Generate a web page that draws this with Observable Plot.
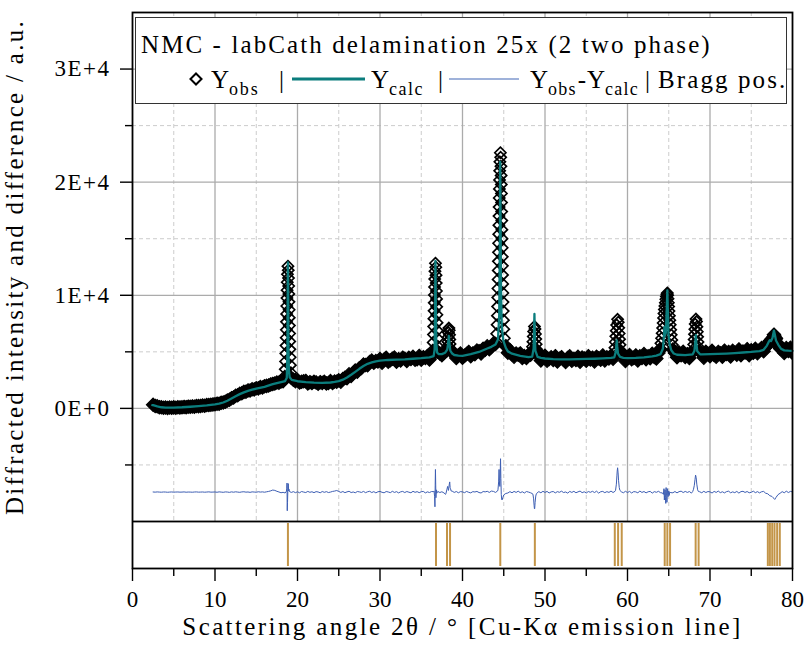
<!DOCTYPE html>
<html><head><meta charset="utf-8">
<script src="https://cdn.jsdelivr.net/npm/d3@7"></script>
<script src="https://cdn.jsdelivr.net/npm/@observablehq/plot@0.6"></script>
<style>
body{margin:0;background:#fff;}
#wrap{position:relative;width:805px;height:652px;}
#wrap svg{display:block;}
#legend{position:absolute;left:0;top:0;pointer-events:none;}
</style></head><body>
<div id="wrap"></div>
<script>
// ---------- texts ----------
const legendTitle = "NMC - labCath delamination 25x (2 two phase)";
const yTitle = "Diffracted intensity and difference / a.u.";
const xTitle = "Scattering angle 2θ / ° [Cu-Kα emission line]";
const legendY = "Y", legendObs = "obs", legendCalc = "calc", legendBragg = "Bragg pos.";

// ---------- ticks ----------
const xMajorTicks = [0, 10, 20, 30, 40, 50, 60, 70, 80];
const xMinorTicks = [5, 15, 25, 35, 45, 55, 65, 75];
const yMajorTicks = [0, 10000, 20000, 30000];
const yTickLabels = ["0E+0", "1E+4", "2E+4", "3E+4"];
const yMinorTicks = [-5000, 5000, 15000, 25000];
const diffOffset = -7400;

// ---------- observed intensity (continuous background band): rows [degree, value@+0, +0.25, +0.5, +0.75] ----------
const obsRows = [
[2,null,null,320,220],[3,180,110,100,60],[4,80,40,75,55],[5,90,60,100,85],[6,95,130,105,150],
[7,140,175,155,205],[8,200,215,250,235],[9,295,290,325,350],[10,360,420,410,500],[11,520,590,700,770],
[12,900,970,1110,1160],[13,1290,1340,1460,1480],[14,1590,1580,1690,1680],[15,1780,1770,1880,1850],
[16,1960,1990,2030,2120],[17,2160,2200,2290,2270],[18,2380,2400,2650,null],[19,null,2700,2540,2410],
[20,2510,2290,2345,2395],[21,2430,2210,2315,2235],[22,2355,2295,2170,2320],[23,2250,2355,2205,2240],
[24,2410,2245,2380,2360],[25,2485,2360,2595,2700],[26,2670,3010,2860,3125],[27,3340,3240,3550,3580],
[28,3880,3830,3815,4095],[29,4230,4030,4185,4145],[30,4365,4045,4320,4475],[31,4130,4260,4385,4490],
[32,4120,4348,4235,4482],[33,4390,4182,4475,4368],[34,4560,4292,4345,4638],[35,4310,4528,4445,4622],
[36,4320,4640,5000,null],[37,5000,4850,4700,4900],[38,5100,null,null,4950],[39,4830,4450,4690,4850],
[40,4480,4660,4815,4990],[41,4600,4860,4790,5110],[42,5060,4845,5270,5185],[43,5490,5225,5420,5730],
[44,5700,null,null,null],[45,null,5500,4930,5150],[46,4790,4570,4850,4740],[47,4860,4445,4620,4465],
[48,4720,4750,5100,null],[49,5000,4650,4230,4520],[50,4650,4220,4365,4520],[51,4280,4615,4140,4385],
[52,4530,4300,4110,4460],[53,4600,4202,4375,4268],[54,4560,4125,4490,4415],[55,4210,4615,4330,4485],
[56,4150,4568,4425,4292],[57,4680,4240,4520,4420],[58,4660,4380,null,null],[59,null,4950,4650,4185],
[60,4510,4715,4350,4465],[61,4680,4230,4610,4450],[62,4800,4340,4600,4430],[63,4830,4550,4410,4900],
[64,5200,null,null,null],[65,null,null,5200,4900],[66,4520,4942,4695,4998],[67,4540,4790,4460,4880],
[68,null,null,null,5000],[69,4880,4485,5010,4825],[70,4620,5098,4725,4572],[71,4990,4878,4565,5102],
[72,4800,4990,4580,5090],[73,4920,4742,5215,4698],[74,5030,4942,5235,4698],[75,5140,4920,5270,4880],
[76,5130,5340,5050,5400],[77,5700,5950,6150,6500],[78,6200,5650,5300,5350],[79,4890,5330,5070,5360],
[80,4900,null,null,null]
];
// observed points on the reflections [2θ, intensity]
const obsPeaks = [
[18.460,2850],[18.517,3450],[18.557,4150],[18.586,4850],[18.609,5550],[18.630,6250],[18.649,6950],[18.667,7650],[18.684,8350],[18.701,9050],[18.719,9750],[18.737,10450],[18.758,11150],[18.782,11850],[18.840,12570],
[18.880,12220],[18.910,11520],[18.932,10820],[18.952,10120],[18.970,9420],[18.987,8720],[19.004,8020],[19.021,7320],[19.040,6620],[19.059,5920],[19.081,5220],[19.107,4520],[19.140,3820],[19.187,3150],
[36.389,5150],[36.444,5830],[36.480,6530],[36.507,7230],[36.531,7930],[36.552,8630],[36.572,9330],[36.592,10030],[36.612,10730],[36.634,11430],[36.661,12130],[36.720,12830],
[36.761,12480],[36.794,11780],[36.817,11080],[36.838,10380],[36.858,9680],[36.878,8980],[36.898,8280],[36.921,7580],[36.946,6880],[36.976,6180],[37.019,5480],
[38.140,5100],[38.192,5500],[38.227,5900],[38.256,6300],[38.287,6700],[38.350,7100],[38.393,6900],[38.429,6500],[38.458,6100],[38.490,5700],[38.529,5300],
[44.145,6600],[44.194,7400],[44.228,8200],[44.255,9000],[44.277,9800],[44.297,10600],[44.316,11400],[44.333,12200],[44.349,13000],[44.364,13800],[44.379,14600],[44.394,15400],[44.408,16200],[44.423,17000],[44.438,17800],[44.453,18600],[44.469,19400],[44.487,20200],[44.507,21000],[44.532,21800],[44.590,22600],
[44.631,22200],[44.662,21400],[44.684,20600],[44.702,19800],[44.719,19000],[44.735,18200],[44.750,17400],[44.765,16600],[44.779,15800],[44.794,15000],[44.808,14200],[44.823,13400],[44.839,12600],[44.856,11800],[44.873,11000],[44.892,10200],[44.914,9400],[44.938,8600],[44.968,7800],[45.008,7000],[45.073,6200],
[48.425,5000],[48.487,5450],[48.534,5900],[48.578,6350],[48.624,6800],[48.720,7250],[48.786,7025],[48.840,6575],[48.884,6125],[48.929,5675],[48.981,5225],[49.057,4800],
[58.386,4880],[58.473,5370],[58.533,5870],[58.584,6370],[58.633,6870],[58.687,7370],[58.800,7870],[58.878,7620],[58.941,7120],[58.992,6620],[59.041,6120],[59.095,5620],[59.165,5120],
[63.95,5300],[64.05,5750],[64.13,6200],[64.20,6650],[64.26,7100],[64.32,7550],[64.37,8000],[64.42,8400],[64.47,8750],[64.53,9050],[64.59,9350],[64.65,9650],[64.71,9900],[64.77,10100],[64.83,10200],
[64.87,10000],[64.91,9700],[64.95,9350],[64.99,9000],[65.03,8600],[65.08,8200],[65.13,7800],[65.18,7400],[65.24,6950],[65.30,6500],[65.37,6050],[65.45,5600],[65.55,5200],[65.70,4950],
[67.960,5200],[68.028,5650],[68.077,6100],[68.119,6550],[68.160,7000],[68.205,7450],[68.300,7900],[68.366,7675],[68.419,7225],[68.461,6775],[68.502,6325],[68.546,5875],[68.602,5425],
[76.80,5400],[77.00,5700],[77.15,5900],[77.30,6000],[77.45,6100],[77.58,6300],[77.70,6500],[77.80,6550],[77.90,6400],[78.02,6100],[78.15,5800],[78.30,5500],[78.45,5300]
];

// ---------- calculated profile [2θ, intensity] ----------
const calcPoints = [
[2.4,290],[2.5,280],[3,170],[3.5,100],[4,70],[5,75],[6,100],[7,145],[8,200],[9,270],[10,360],[10.5,420],[11,520],[11.5,680],[12,870],[12.5,1070],[13,1260],[13.5,1420],[14,1550],[14.5,1650],[15,1740],[16,1910],[17,2140],[17.5,2240],[18,2330],[18.5,2420],[18.7,2700],[18.78,5000],[18.82,10500],[18.845,12900],[18.87,10200],[18.9,5500],[18.96,3300],[19.05,2750],[19.3,2520],
[20,2400],[21,2320],[22,2270],[23,2250],[24,2290],[24.5,2340],[25,2410],[25.5,2540],[26,2730],[26.5,2970],[27,3230],[27.5,3500],[28,3740],[28.5,3940],[29,4060],[29.5,4160],[30,4220],[31,4280],[32,4310],[33,4340],[34,4390],[35,4440],[36,4510],[36.5,4620],[36.62,5200],[36.68,8500],[36.72,13030],[36.76,9500],[36.82,5800],[36.92,4950],[37.1,4800],[37.5,4800],[37.9,4920],[38.15,5200],[38.27,5800],[38.34,6400],[38.41,5800],[38.52,5100],[38.75,4850],[39,4720],[39.5,4660],[40,4640],[41,4790],[42,4990],[43,5290],[43.5,5440],[44,5650],[44.3,6100],[44.45,8200],[44.53,15000],[44.57,21800],[44.61,17000],[44.67,10500],[44.76,7200],[44.95,6000],[45.25,5350],[45.5,5040],[46,4840],[47,4640],[48,4540],[48.45,4580],[48.62,5300],[48.68,7000],[48.72,8350],[48.76,6800],[48.83,5100],[49.1,4560],[49.5,4470],
[50,4410],[51,4360],[52,4340],[53,4340],[54,4350],[55,4370],[56,4390],[57,4420],[58,4460],[58.4,4520],[58.58,5000],[58.66,5700],[58.7,6020],[58.75,5500],[58.85,4850],[59.1,4550],[59.5,4470],[60,4450],[61,4470],[62,4510],[63,4590],[63.5,4670],[64,4800],[64.3,5300],[64.42,6500],[64.47,7200],[64.53,6400],[64.65,6700],[64.76,8800],[64.83,10440],[64.89,8600],[64.97,6500],[65.1,5700],[65.3,5150],[65.6,4850],[66,4740],[67,4710],[67.9,4780],[68.12,5100],[68.22,5900],[68.28,6480],[68.34,5800],[68.46,5050],[68.8,4780],[69,4770],
[70,4790],[71,4820],[72,4850],[73,4890],[74,4940],[75,4990],[76,5070],[76.5,5180],[76.9,5550],[77.1,5850],[77.25,6030],[77.4,5950],[77.58,6250],[77.75,6880],[77.85,6550],[78.0,6000],[78.3,5600],[78.6,5280],[79,5130],[79.5,5100],[80,5080]
];

// ---------- difference Yobs-Ycalc: rows [degree, r@+0, +0.25, +0.5, +0.75] ----------
const diffRows = [
[2,null,null,10,-5],[3,15,0,-10,10],[4,5,-15,0,12],[5,-8,5,10,-5],[6,0,15,-10,5],[7,0,-12,8,15],
[8,-5,0,10,-10],[9,5,20,-5,0],[10,10,-15,20,0],[11,-20,15,5,-25],[12,20,-10,25,0],[13,-20,15,30,-5],
[14,10,-25,20,5],[15,-15,30,0,20],[16,-10,25,60,110],[17,180,150,70,10],[18,-60,-20,-80,-1400],
[19,60,-30,40,-50],[20,30,-60,50,0],[21,-40,60,-20,30],[22,-50,40,10,-60],[23,50,-20,40,-40],
[24,0,60,90,140],[25,60,-30,50,-50],[26,20,70,-40,10],[27,-60,50,20,-30],[28,60,-50,30,70],
[29,-40,40,-70,30],[30,60,-20,-60,50],[31,10,-50,70,-30],[32,40,-70,20,60],[33,-40,50,-10,-60],
[34,70,-20,40,-50],[35,30,60,-70,20],[36,-40,50,40,700],[37,60,-40,30,-70],[38,-100,300,400,80],
[39,-30,50,-60,40],[40,20,-50,60,-20],[41,-70,40,10,60],[42,-40,-80,50,20],[43,70,-30,90,60],
[44,-30,100,600,-650],[45,-250,-120,-80,40],[46,-60,60,-30,80],[47,-50,30,-80,50],[48,0,-60,-150,-1450],
[49,-100,40,-60,70],[50,-30,60,-80,20],[51,50,-70,40,-20],[52,80,-40,10,-90],[53,60,-30,70,-60],
[54,20,90,-50,30],[55,-80,50,-20,70],[56,-40,80,-90,30],[57,60,-50,40,-30],[58,90,-40,80,1850],
[59,400,30,-60,70],[60,-40,60,-80,40],[61,20,-60,90,-30],[62,50,-70,30,60],[63,-90,40,-20,70],
[64,-50,-80,-300,-400],[65,100,-50,-60,50],[66,-70,40,80,-40],[67,60,-30,50,-90],[68,250,1500,200,30],
[69,-60,70,-40,50],[70,20,-80,60,-30],[71,90,-50,30,-70],[72,40,80,-60,20],[73,-50,60,-90,40],
[74,70,-30,50,-60],[75,-20,80,-50,40],[76,-70,30,60,-100],[77,-150,-320,-380,-560],[78,-470,-220,-100,40],
[79,-60,80,-40,60],[80,20,null,null,null]
];
const diffSpikes = [
[18.66,80],[18.70,300],[18.73,800],[18.76,-1650],[18.79,-900],[18.83,200],[18.88,750],[18.93,100],[18.97,250],
[36.55,100],[36.62,-400],[36.66,-1300],[36.69,600],[36.72,2000],[36.78,-500],[36.82,200],[36.88,-100],
[37.95,-200],[38.1,200],[38.2,500],[38.3,150],[38.4,700],[38.45,900],[38.55,300],[38.62,100],
[44.3,200],[44.38,900],[44.43,2000],[44.47,1000],[44.53,500],[44.57,1600],[44.61,2950],[44.65,1200],[44.70,-200],[44.8,-700],[44.88,-500],
[48.55,-250],[48.62,-600],[48.68,-1200],[48.72,-1480],[48.8,-900],[48.88,-350],[48.95,-150],
[58.55,150],[58.65,700],[58.72,1500],[58.8,2150],[58.86,1700],[58.92,1000],[59.08,150],
[64.35,-200],[64.42,300],[64.47,-700],[64.55,200],[64.6,-500],[64.64,-1000],[64.68,400],[64.72,-300],[64.78,-900],[64.85,300],[64.92,-400],[65.05,-300],[65.12,0],
[67.9,50],[68.1,600],[68.18,1100],[68.32,1300],[68.4,700],[68.6,50],
[77.65,-500],[77.85,-650]
];

// ---------- Bragg positions ----------
const braggPositions = [18.84, 36.79, 38.12, 38.49, 44.58, 48.77, 58.46, 58.86, 59.30, 64.51, 64.83, 65.16, 68.26, 68.62, 77.01, 77.26, 77.54, 77.82, 78.14, 78.46];

// ---------- build tables ----------
const STEP = 0.25;
const obsBand = [];
for (const [deg, ...vals] of obsRows) vals.forEach((v, k) => { if (v != null) obsBand.push({x: deg + k * STEP, y: v}); });
const obsPeak = obsPeaks.map(([x, y]) => ({x, y}));
const calc = calcPoints.map(([x, y]) => ({x, y}));
const diff = [];
for (const [deg, ...vals] of diffRows) vals.forEach((v, k) => { if (v != null) diff.push({x: deg + k * STEP, r: v}); });
for (const [x, r] of diffSpikes) diff.push({x, r});
diff.sort((a, b) => a.x - b.x);

const FONT = '"Liberation Serif", "Times New Roman", serif';
const W = 805, ML = 132, MR = 13;

const mainPlot = Plot.plot({
  width: W, height: 521, marginLeft: ML, marginRight: MR, marginTop: 12, marginBottom: 0,
  style: {fontFamily: FONT, background: "white", color: "black"},
  x: {domain: [0, 80], axis: null},
  y: {domain: [-10000, 35000], label: null},
  marks: [
    Plot.ruleX(xMinorTicks, {stroke: "#cccccc", strokeDasharray: "4,3"}),
    Plot.ruleY(yMinorTicks, {stroke: "#cccccc", strokeDasharray: "4,3"}),
    Plot.ruleX(xMajorTicks.slice(1, -1), {stroke: "#ababab", strokeWidth: 1.3}),
    Plot.ruleY(yMajorTicks, {stroke: "#ababab", strokeWidth: 1.3}),
    Plot.dot(obsBand, {x: "x", y: "y", symbol: "diamond2", r: 6, stroke: "#000", strokeWidth: 1.2, fill: "#000", clip: true}),
    Plot.dot(obsPeak, {x: "x", y: "y", symbol: "diamond2", r: 5, stroke: "#000", strokeWidth: 1.7, fill: "none", clip: true}),
    Plot.line(calc, {x: "x", y: "y", stroke: "#0b7d7d", strokeWidth: 2.3}),
    Plot.line(diff, {x: "x", y: d => d.r + diffOffset, stroke: "#3d5eb3", strokeWidth: 1}),
    Plot.axisY({ticks: yMajorTicks, tickFormat: d => yTickLabels[yMajorTicks.indexOf(d)], tickSize: 12, tickPadding: 10, fontSize: 23, strokeWidth: 1.4, label: null}),
    Plot.axisY({ticks: yMinorTicks, tickSize: 7, fill: "none", strokeWidth: 1.4, label: null}),
    Plot.text([yTitle], {text: d => d, frameAnchor: "left", textAnchor: "middle", lineAnchor: "middle", rotate: -90, dx: -118, fontSize: 25}),
    Plot.frame({stroke: "#000", strokeWidth: 1.8})
  ]
});

const braggPlot = Plot.plot({
  width: W, height: 131, marginLeft: ML, marginRight: MR, marginTop: 0, marginBottom: 84,
  style: {fontFamily: FONT, background: "white", color: "black"},
  x: {domain: [0, 80], label: null},
  marks: [
    Plot.ruleX(braggPositions, {stroke: "#c39548", strokeWidth: 2, insetTop: 2, insetBottom: 2}),
    Plot.axisX({ticks: xMajorTicks, tickSize: 13, tickPadding: 9, fontSize: 23, strokeWidth: 1.4, label: null}),
    Plot.axisX({ticks: xMinorTicks, tickSize: 8, fill: "none", strokeWidth: 1.4, label: null}),
    Plot.text([xTitle], {text: d => d, frameAnchor: "bottom", textAnchor: "middle", dy: 66, fontSize: 25}),
    Plot.frame({stroke: "#000", strokeWidth: 1.8})
  ]
});

d3.select(mainPlot).selectAll('g[aria-label="text"] text').style("letter-spacing", "2.3px");
d3.select(mainPlot).selectAll('g[aria-label="y-axis tick label"] text').style("letter-spacing", "1.5px");
d3.select(braggPlot).selectAll('g[aria-label="text"] text').style("letter-spacing", "2.4px");

const wrap = document.getElementById("wrap");
wrap.appendChild(mainPlot);
wrap.appendChild(braggPlot);

// ---------- legend box (inside plot area) ----------
const leg = d3.create("svg").attr("id", "legend").attr("width", W).attr("height", 652)
  .style("font-family", FONT);
wrap.appendChild(leg.node());
leg.append("rect").attr("x", 135.5).attr("y", 17.5).attr("width", 651).attr("height", 86)
  .attr("fill", "#fff").attr("stroke", "#333").attr("stroke-width", 1);
leg.append("text").attr("x", 141).attr("y", 53).attr("font-size", 25).style("letter-spacing", "2.1px").text(legendTitle);
const rowY = 88, subY = 95, symY = 79;
leg.append("path").attr("d", d3.symbol(d3.symbolDiamond2, 78)()).attr("transform", `translate(196,${symY})`)
  .attr("fill", "none").attr("stroke", "#000").attr("stroke-width", 2);
const txt = (x, y, s, size, ls) => leg.append("text").attr("x", x).attr("y", y).attr("font-size", size).style("letter-spacing", ls + "px").text(s);
const after = (sel, gap) => +sel.attr("x") + sel.node().getComputedTextLength() + gap;
let t;
t = txt(211, rowY, legendY, 25, 0); txt(after(t, 0), subY, legendObs, 18, 1.8);
txt(279, rowY, "|", 25, 0);
leg.append("line").attr("x1", 292).attr("x2", 365).attr("y1", symY).attr("y2", symY).attr("stroke", "#0b7d7d").attr("stroke-width", 3);
t = txt(371, rowY, legendY, 25, 0); txt(after(t, 0), subY, legendCalc, 18, 1.5);
txt(438, rowY, "|", 25, 0);
leg.append("line").attr("x1", 449).attr("x2", 519).attr("y1", symY).attr("y2", symY).attr("stroke", "#9fb2da").attr("stroke-width", 1.8);
t = txt(530, rowY, legendY, 25, 0);
t = txt(after(t, 0), subY, legendObs, 18, 1.2);
t = txt(after(t, 1), rowY, "-", 25, 0);
t = txt(after(t, 1), rowY, legendY, 25, 0);
txt(after(t, 0), subY, legendCalc, 18, 1.2);
txt(645, rowY, "|", 25, 0);
txt(658, rowY, legendBragg, 25, 2.1);
</script>
</body></html>
